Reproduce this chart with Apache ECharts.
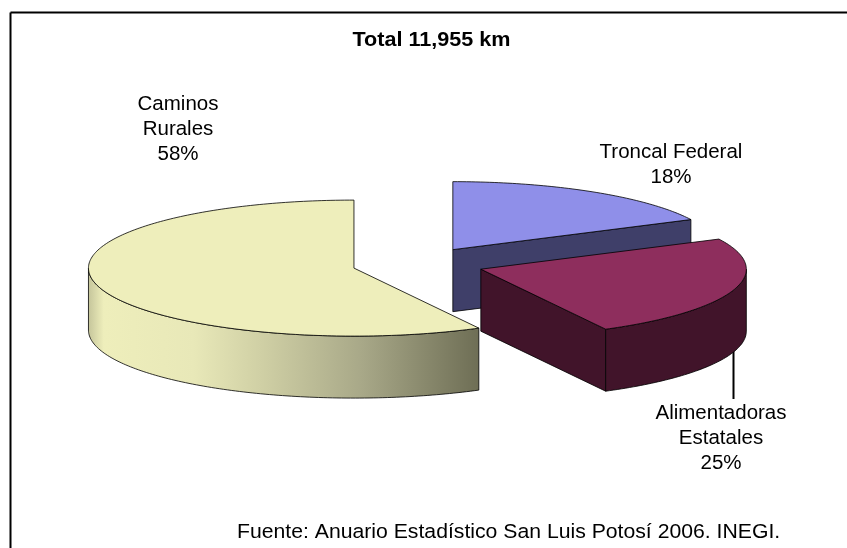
<!DOCTYPE html>
<html>
<head>
<meta charset="utf-8">
<title>Total 11,955 km</title>
<script src="https://cdn.jsdelivr.net/npm/echarts@6/dist/echarts.min.js"></script>
<style>
  html, body { margin: 0; padding: 0; background: #fff; }
  #chart { width: 847px; height: 548px; }
</style>
</head>
<body>
<div id="chart"></div>
<script>
// km per road type
const categories = ['Troncal Federal', 'Alimentadoras\nEstatales', 'Caminos\nRurales']
const kilometres = [2116, 2930, 6909]
const titleText = 'Total 11,955 km'
const sourceText = 'Fuente: Anuario Estadístico San Luis Potosí 2006. INEGI.'

// look of each slice, same order as categories
const topColors = ['#8f8fe9', '#8e2e5d', '#eeeebb']
const wallColors = ['#3f3f69', '#41142a', '#c8c89c']
const labelAnchors = [[671, 165], [721, 438], [178, 129]]

const cx = 418
const cy = 264
const rx = 265.5
const ry = 68
const depth = 62
const explode = 66
const total = kilometres.reduce(function (a, b) { return a + b }, 0)

const edge = '#000'
const textFont = '20.5px "Liberation Sans", Arial, sans-serif'

function rad (deg) {
  return deg * Math.PI / 180
}

function pt (c, deg) {
  return [c[0] + rx * Math.sin(rad(deg)), c[1] - ry * Math.cos(rad(deg))]
}

function arc (c, from, to, dy) {
  const pts = []
  const n = Math.max(2, Math.ceil(Math.abs(to - from)))
  for (let i = 0; i <= n; i++) {
    const p = pt(c, from + (to - from) * i / n)
    pts.push([p[0], p[1] + dy])
  }
  return pts
}

function poly (points, fill) {
  return {
    type: 'polygon',
    shape: { points: points },
    style: { fill: fill, stroke: edge, lineWidth: 0.8 }
  }
}

function rimFill (i) {
  if (i === 2) {
    return new echarts.graphic.LinearGradient(0, 0, 1, 0, [
      { offset: 0, color: '#c4c49a' },
      { offset: 0.04, color: '#eeeebb' },
      { offset: 0.27, color: '#e8e8b8' },
      { offset: 0.44, color: '#d0d0a5' },
      { offset: 0.7, color: '#a8a888' },
      { offset: 1, color: '#6e6e55' }
    ])
  }
  return wallColors[i]
}

function renderSlice (params, api) {
  const i = params.dataIndex
  const value = api.value(0)
  let before = 0
  for (let k = 0; k < i; k++) before += kilometres[k]
  const start = before / total * 360
  const end = (before + value) / total * 360
  const mid = (start + end) / 2
  const c = [cx + explode * Math.sin(rad(mid)), cy - explode * ry / rx * Math.cos(rad(mid))]
  const children = []

  // cut face at the end of the slice, only if it looks towards us
  if (end < 180) {
    const p = pt(c, end)
    children.push(poly([c, p, [p[0], p[1] + depth], [c[0], c[1] + depth]], wallColors[i]))
  }
  // outer rim, front half of the ellipse only
  const from = Math.max(start, 90)
  const to = Math.min(end, 270)
  if (to > from) {
    const rim = arc(c, from, to, 0).concat(arc(c, to, from, depth))
    children.push(poly(rim, rimFill(i)))
  }
  // top face
  children.push(poly([c].concat(arc(c, start, end, 0)), topColors[i]))

  // label
  const pct = Math.round(value / total * 100)
  children.push({
    type: 'text',
    style: {
      x: labelAnchors[i][0],
      y: labelAnchors[i][1],
      text: categories[i] + '\n' + pct + '%',
      align: 'center',
      verticalAlign: 'middle',
      fill: '#000',
      font: textFont,
      lineHeight: 25
    }
  })
  return { type: 'group', children: children }
}

const chart = echarts.init(document.getElementById('chart'), null, { renderer: 'canvas' })
chart.setOption({
  animation: false,
  backgroundColor: '#fff',
  graphic: [
    // frame runs off the right and bottom of the picture
    { type: 'line', shape: { x1: 10.5, y1: 12.5, x2: 847, y2: 12.5 }, style: { stroke: '#000', lineWidth: 2 } },
    { type: 'line', shape: { x1: 10.5, y1: 12.5, x2: 10.5, y2: 548 }, style: { stroke: '#000', lineWidth: 2 } },
    // leader for Alimentadoras
    { type: 'line', shape: { x1: 733.5, y1: 350, x2: 733.5, y2: 399 }, style: { stroke: '#000', lineWidth: 2 } },
    {
      type: 'text',
      x: 431.5,
      y: 40,
      scaleX: 1.054,
      style: {
        text: titleText,
        align: 'center',
        verticalAlign: 'middle',
        fill: '#000',
        font: 'bold 20.5px "Liberation Sans", Arial, sans-serif'
      }
    },
    {
      type: 'text',
      x: 237,
      y: 532,
      scaleX: 1.034,
      style: {
        text: sourceText,
        align: 'left',
        verticalAlign: 'middle',
        fill: '#000',
        font: textFont
      }
    }
  ],
  series: [{
    type: 'custom',
    coordinateSystem: 'none',
    renderItem: renderSlice,
    data: kilometres.map(function (v) { return [v] })
  }]
})
</script>
</body>
</html>
